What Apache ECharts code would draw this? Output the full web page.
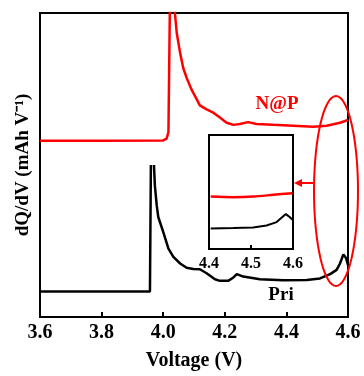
<!DOCTYPE html>
<html>
<head>
<meta charset="utf-8">
<script src="https://cdn.jsdelivr.net/npm/echarts@6/dist/echarts.min.js"></script>
<style>
  html, body { margin: 0; padding: 0; background: #fff; }
  #chart { width: 364px; height: 376px; }
</style>
</head>
<body>
<div id="chart"></div>
<script>
// dQ/dV curves, arbitrary units (curves are offset vertically)
const napVoltage = [3.60, 3.80, 4.000, 4.011, 4.017, 4.022, 4.030, 4.038, 4.044, 4.055, 4.065, 4.076, 4.092, 4.109, 4.119, 4.141, 4.163, 4.184, 4.206, 4.228, 4.249, 4.276, 4.303, 4.357, 4.422, 4.487, 4.531, 4.574, 4.600];
const napValue   = [5.80, 5.80, 5.81, 5.87, 6.08, 10.5, 13.0, 10.0, 9.34, 8.68, 8.19, 7.87, 7.48, 7.16, 6.96, 6.83, 6.72, 6.56, 6.39, 6.32, 6.35, 6.41, 6.35, 6.32, 6.29, 6.26, 6.29, 6.39, 6.48];

// '-' breaks the line where the Pri peak runs off scale
const priVoltage = [3.60, 3.80, 3.957, 3.959, 3.960, 3.964, 3.970, 3.973, 3.979, 3.984, 4.000, 4.017, 4.033, 4.055, 4.076, 4.098, 4.119, 4.141, 4.168, 4.184, 4.211, 4.228, 4.239, 4.260, 4.314, 4.390, 4.466, 4.509, 4.542, 4.563, 4.574, 4.585, 4.594, 4.600];
const priValue   = [0.84, 0.84, 0.84, 0.84, 5.00, '-', 5.00, 4.32, 3.67, 3.29, 2.80, 2.25, 1.98, 1.76, 1.62, 1.58, 1.57, 1.44, 1.24, 1.19, 1.19, 1.30, 1.41, 1.33, 1.24, 1.21, 1.22, 1.27, 1.41, 1.55, 1.76, 2.06, 1.93, 1.71];

// enlarged 4.4–4.6 V window
const insetNapVoltage = [4.404, 4.458, 4.505, 4.553, 4.599];
const insetNapValue   = [4.60, 4.55, 4.60, 4.75, 4.90];
const insetPriVoltage = [4.404, 4.458, 4.505, 4.537, 4.561, 4.572, 4.583, 4.592, 4.599];
const insetPriValue   = [1.80, 1.84, 1.89, 2.06, 2.36, 2.71, 3.06, 2.80, 2.56];

const xTicks = [3.6, 3.8, 4.0, 4.2, 4.4, 4.6];
const insetTicks = [4.4, 4.5, 4.6];

const pairs = (xs, ys) => xs.map((x, i) => [x, ys[i]]);

const FONT = '"Liberation Serif", "Times New Roman", serif';
const RED = '#ff0000';

// outline around the high-voltage region
const ellipsePts = [];
for (let i = 0; i <= 72; i++) {
  const t = (i / 72) * Math.PI * 2;
  ellipsePts.push([336 + 22 * Math.cos(t), 191 + 95 * Math.sin(t)]);
}

const chart = echarts.init(document.getElementById('chart'), null, { renderer: 'canvas' });

chart.setOption({
  animation: false,
  backgroundColor: '#fff',
  grid: [
    { left: 40, top: 13, width: 308, height: 306, show: true, borderColor: '#000', borderWidth: 2 },
    { left: 209, top: 135, width: 84, height: 114, show: true, borderColor: '#000', borderWidth: 2, backgroundColor: '#fff', z: 5 }
  ],
  xAxis: [
    {
      gridIndex: 0, type: 'value', min: 3.6, max: 4.6, interval: 0.2,
      name: 'Voltage (V)', nameLocation: 'middle', nameGap: 34,
      nameTextStyle: { fontFamily: FONT, fontWeight: 'bold', fontSize: 20, color: '#000' },
      axisLine: { lineStyle: { color: '#000', width: 2 } },
      axisTick: { inside: true, length: 5, lineStyle: { color: '#000', width: 2 } },
      axisLabel: {
        margin: 6, fontFamily: FONT, fontWeight: 'bold', fontSize: 20, color: '#000',
        formatter: v => xTicks.find(t => Math.abs(t - v) < 1e-6).toFixed(1)
      },
      splitLine: { show: false }
    },
    {
      gridIndex: 1, type: 'value', min: 4.4, max: 4.6, interval: 0.1,
      axisLine: { lineStyle: { color: '#000', width: 2 } },
      axisTick: { inside: true, length: 4, lineStyle: { color: '#000', width: 2 } },
      axisLabel: {
        margin: 7, fontFamily: FONT, fontWeight: 'bold', fontSize: 16, color: '#000',
        formatter: v => insetTicks.find(t => Math.abs(t - v) < 1e-6).toFixed(1)
      },
      splitLine: { show: false }, z: 6
    }
  ],
  yAxis: [
    {
      gridIndex: 0, type: 'value', min: 0, max: 10,
      name: 'dQ/dV (mAh V⁻¹)', nameLocation: 'middle', nameGap: 7, nameRotate: 90,
      nameTextStyle: { fontFamily: FONT, fontWeight: 'bold', fontSize: 19, color: '#000' },
      axisLine: { lineStyle: { color: '#000', width: 2 } },
      axisTick: { show: false }, axisLabel: { show: false }, splitLine: { show: false }
    },
    {
      gridIndex: 1, type: 'value', min: 0, max: 10,
      axisLine: { lineStyle: { color: '#000', width: 2 } },
      axisTick: { show: false }, axisLabel: { show: false }, splitLine: { show: false }, z: 6
    }
  ],
  series: [
    {
      type: 'line', xAxisIndex: 0, yAxisIndex: 0, data: pairs(napVoltage, napValue),
      showSymbol: false, clip: true, lineStyle: { color: RED, width: 2.5 }
    },
    {
      type: 'line', xAxisIndex: 0, yAxisIndex: 0, data: pairs(priVoltage, priValue),
      showSymbol: false, clip: true, connectNulls: false, lineStyle: { color: '#000', width: 2.5 }
    },
    {
      type: 'line', xAxisIndex: 1, yAxisIndex: 1, data: pairs(insetNapVoltage, insetNapValue),
      showSymbol: false, smooth: 0.3, clip: true, lineStyle: { color: RED, width: 2.5 }, z: 7
    },
    {
      type: 'line', xAxisIndex: 1, yAxisIndex: 1, data: pairs(insetPriVoltage, insetPriValue),
      showSymbol: false, clip: true, lineStyle: { color: '#000', width: 2 }, z: 7
    }
  ],
  graphic: [
    { type: 'text', x: 277, y: 104, style: { text: 'N@P', font: 'bold 19px ' + FONT, fill: RED, align: 'center', verticalAlign: 'middle' } },
    { type: 'text', x: 281, y: 295, style: { text: 'Pri', font: 'bold 19px ' + FONT, fill: '#000', align: 'center', verticalAlign: 'middle' } },
    { type: 'polygon', shape: { points: ellipsePts }, style: { fill: 'none', stroke: RED, lineWidth: 2 }, z: 10 },
    { type: 'line', shape: { x1: 313, y1: 183, x2: 300, y2: 183 }, style: { stroke: RED, lineWidth: 2 }, z: 10 },
    { type: 'polygon', shape: { points: [[294, 183], [302, 179], [302, 187]] }, style: { fill: RED }, z: 10 }
  ]
});
</script>
</body>
</html>
